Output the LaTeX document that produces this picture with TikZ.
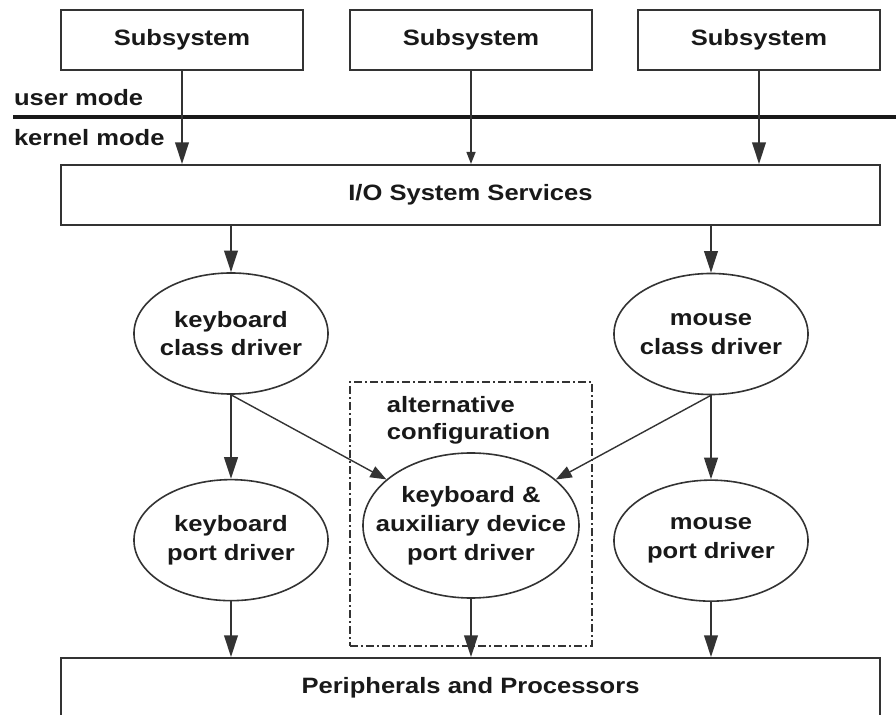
\documentclass[tikz,border=0pt]{standalone}
\usepackage{fontspec}
\setmainfont{Liberation Sans}[FakeStretch=1.15]
\usetikzlibrary{arrows.meta, positioning, shapes.geometric}

\begin{document}
\begin{tikzpicture}[x=0.025cm, y=-0.025cm, color=black!80,
    every node/.style={font={\fontsize{15.8}{20.5}\selectfont\bfseries}, text=black!90},
    line width=0.05cm,
    sub/.style={draw, minimum width=6.05cm, minimum height=1.5cm, inner sep=0},
    wide/.style={draw, minimum width=20.475cm, minimum height=1.5cm, inner sep=0},
    drv/.style={draw, ellipse, line width=0.04cm, minimum width=4.85cm, minimum height=3.025cm, inner sep=0, inner xsep=-0.3cm, align=center},
    big/.style={-{Triangle[length=0.54cm, width=0.34cm]}},
    small/.style={-{Triangle[length=0.3cm, width=0.22cm]}},
    diag/.style={-{Triangle[length=0.4cm, width=0.3cm]}, line width=0.035cm}]
    \useasboundingbox (0,0) rectangle (896,715);
    \clip (0,0) rectangle (896,715);

    % user side
    \node[sub] (sub1) at (182,40) {Subsystem};
    \node[sub] (sub2) at (471,40) {Subsystem};
    \node[sub] (sub3) at (759,40) {Subsystem};

    \node[anchor=west, inner sep=0] (user) at (13,98) {user mode};
    \node[anchor=west, inner sep=0] (kernel) at (13,138) {kernel mode};
    \coordinate (sepl) at (13,117);
    \coordinate (sepr) at (896,117);
    \draw[line width=0.1cm, black!90] (sepl) -- (sepr);

    % kernel side
    \node[wide] (io) at (470.5,195) {I/O System Services};

    \node[drv] (kbclass) at (231,333.5) {keyboard\\class driver};
    \node[drv] (msclass) at (711,334) {mouse\\class driver};
    \node[drv] (kbport) [below=2.1cm of kbclass] {keyboard\\port driver};
    \node[drv] (msport) [below=2.1cm of msclass] {mouse\\port driver};

    \node[draw, dash pattern=on 0.2cm off 0.08cm on 0.04cm off 0.08cm, line width=0.04cm,
        minimum width=6.05cm, minimum height=6.6cm] (altbox) at (471,514) {};
    \node[anchor=north west, align=left, inner sep=0, font={\fontsize{15.8}{19.5}\selectfont\bfseries}]
        (alttext) [below right=0.35cm and 0.92cm of altbox.north west] {alternative\\configuration};
    \node[drv, inner xsep=-0.5cm, minimum width=5.4cm, minimum height=3.625cm] (alt) at (471,525.5) {keyboard \&\\auxiliary device\\port driver};

    \node[wide] (periph) at (470.5,688) {Peripherals and Processors};

    \draw[big] (sub1.south) -- (sub1.south |- io.north);
    \draw[small] (sub2.south) -- (sub2.south |- io.north);
    \draw[big] (sub3.south) -- (sub3.south |- io.north);

    \draw[big] (kbclass.north |- io.south) -- (kbclass);
    \draw[big] (msclass.north |- io.south) -- (msclass);
    \draw[big] (kbclass) -- (kbport);
    \draw[big] (msclass) -- (msport);
    \draw[diag] (kbclass.south) -- (alt);
    \draw[diag] (msclass.south) -- (alt);

    \draw[big] (kbport) -- (kbport |- periph.north);
    \draw[big] (alt) -- (alt |- periph.north);
    \draw[big] (msport) -- (msport |- periph.north);
\end{tikzpicture}
\end{document}
